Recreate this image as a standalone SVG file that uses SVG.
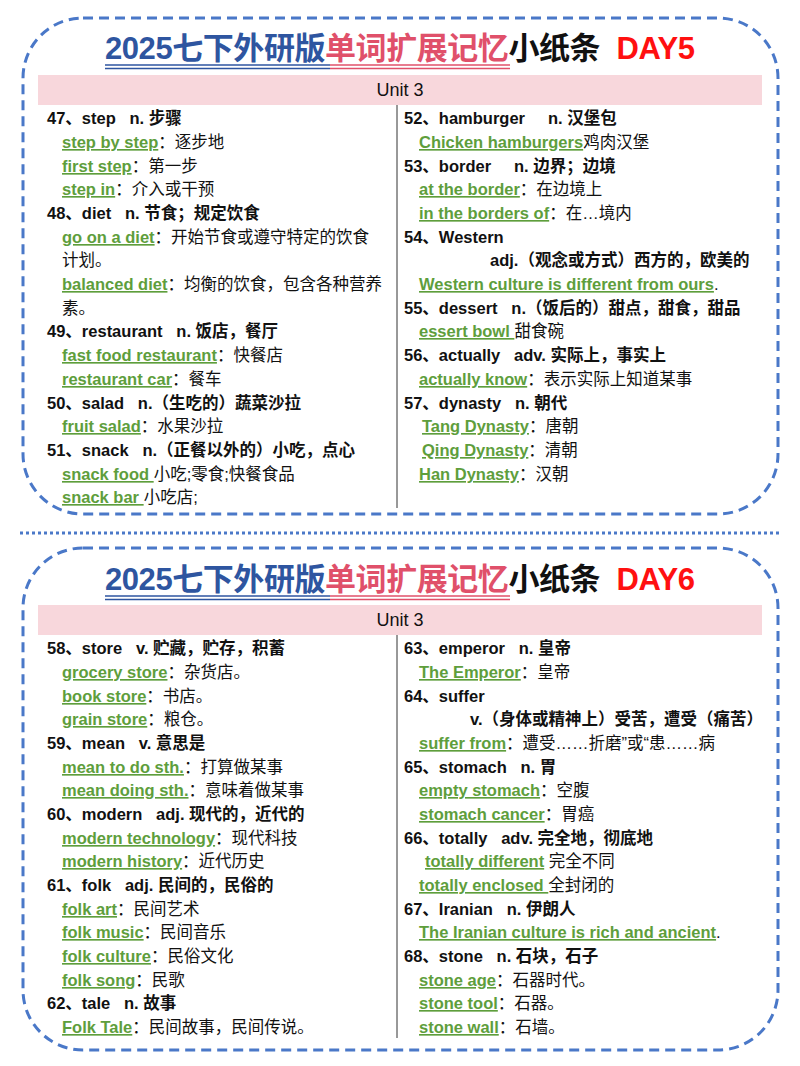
<svg xmlns="http://www.w3.org/2000/svg" width="800" height="1066" viewBox="0 0 800 1066">
<style>
text{font-family:"Liberation Sans","Noto Sans CJK SC",sans-serif;font-size:16.5px;fill:#111;white-space:pre}
.h{font-weight:bold}
.g{fill:#5e9e3c;text-decoration:underline;font-weight:bold}
.t{font-size:31px;font-weight:bold;text-anchor:middle}
.u{font-size:18px;text-anchor:middle}
.box{fill:#fff;stroke:#4a78c8;stroke-width:3;stroke-dasharray:10 6}
.band{fill:#f8d7dc}
.div{stroke:#333;stroke-width:1}
</style>
<rect width="800" height="1066" fill="#fff"/>
<g id="card1">
<rect class="box" x="23" y="18" width="755" height="496" rx="60"/>
<text class="t" x="400" y="59" textLength="590" lengthAdjust="spacing"><tspan fill="#2e55a0">2025七下外研版</tspan><tspan fill="#e0506a">单词扩展记忆</tspan><tspan fill="#111">小纸条  </tspan><tspan fill="#ff1010">DAY5</tspan></text>
<line x1="105" y1="65" x2="330" y2="65" stroke="#2e55a0" stroke-width="1.5"/><line x1="105" y1="68.5" x2="330" y2="68.5" stroke="#2e55a0" stroke-width="1.5"/>
<line x1="330" y1="65" x2="510" y2="65" stroke="#e0506a" stroke-width="1.5"/><line x1="330" y1="68.5" x2="510" y2="68.5" stroke="#e0506a" stroke-width="1.5"/>
<rect class="band" x="38" y="75" width="724" height="30"/>
<text class="u" x="400" y="96">Unit 3</text>
<line class="div" x1="397" y1="105" x2="397" y2="508"/>
<text x="47" y="124" class="h">47、step   n. 步骤</text>
<text x="62" y="148"><tspan class="g">step by step</tspan>：逐步地</text>
<text x="62" y="172"><tspan class="g">first step</tspan>：第一步</text>
<text x="62" y="195"><tspan class="g">step in</tspan>：介入或干预</text>
<text x="47" y="219" class="h">48、diet   n. 节食；规定饮食</text>
<text x="62" y="243"><tspan class="g">go on a diet</tspan>：开始节食或遵守特定的饮食</text>
<text x="62" y="266">计划。</text>
<text x="62" y="290"><tspan class="g">balanced diet</tspan>：均衡的饮食，包含各种营养</text>
<text x="62" y="314">素。</text>
<text x="47" y="337" class="h">49、restaurant   n. 饭店，餐厅</text>
<text x="62" y="361"><tspan class="g">fast food restaurant</tspan>：快餐店</text>
<text x="62" y="385"><tspan class="g">restaurant car</tspan>：餐车</text>
<text x="47" y="409" class="h">50、salad   n.（生吃的）蔬菜沙拉</text>
<text x="62" y="432"><tspan class="g">fruit salad</tspan>：水果沙拉</text>
<text x="47" y="456" class="h">51、snack   n.（正餐以外的）小吃，点心</text>
<text x="62" y="480"><tspan class="g">snack food </tspan>小吃;零食;快餐食品</text>
<text x="62" y="503"><tspan class="g">snack bar </tspan>小吃店;</text>

<text x="404" y="124" class="h">52、hamburger     n. 汉堡包</text>
<text x="419" y="148"><tspan class="g">Chicken hamburgers</tspan>鸡肉汉堡</text>
<text x="404" y="172" class="h">53、border     n. 边界；边境</text>
<text x="419" y="195"><tspan class="g">at the border</tspan>：在边境上</text>
<text x="419" y="219"><tspan class="g">in the borders of</tspan>：在…境内</text>
<text x="404" y="243" class="h">54、Western</text>
<text x="490" y="266" class="h">adj.（观念或方式）西方的，欧美的</text>
<text x="419" y="290"><tspan class="g">Western culture is different from ours</tspan>.</text>
<text x="404" y="314" class="h">55、dessert   n.（饭后的）甜点，甜食，甜品</text>
<text x="419" y="337"><tspan class="g">essert bowl </tspan>甜食碗</text>
<text x="404" y="361" class="h">56、actually   adv. 实际上，事实上</text>
<text x="419" y="385"><tspan class="g">actually know</tspan>：表示实际上知道某事</text>
<text x="404" y="409" class="h">57、dynasty   n. 朝代</text>
<text x="422" y="432"><tspan class="g">Tang Dynasty</tspan>：唐朝</text>
<text x="422" y="456"><tspan class="g">Qing Dynasty</tspan>：清朝</text>
<text x="419" y="480"><tspan class="g">Han Dynasty</tspan>：汉朝</text>
</g>
<g id="separator">
<line x1="20" y1="533" x2="780" y2="533" stroke="#4a78c8" stroke-width="3" stroke-dasharray="3 3"/>
</g>
<g id="card2">
<rect class="box" x="23" y="548" width="755" height="502" rx="60"/>
<text class="t" x="400" y="590" textLength="590" lengthAdjust="spacing"><tspan fill="#2e55a0">2025七下外研版</tspan><tspan fill="#e0506a">单词扩展记忆</tspan><tspan fill="#111">小纸条  </tspan><tspan fill="#ff1010">DAY6</tspan></text>
<line x1="105" y1="596" x2="330" y2="596" stroke="#2e55a0" stroke-width="1.5"/><line x1="105" y1="599.5" x2="330" y2="599.5" stroke="#2e55a0" stroke-width="1.5"/>
<line x1="330" y1="596" x2="510" y2="596" stroke="#e0506a" stroke-width="1.5"/><line x1="330" y1="599.5" x2="510" y2="599.5" stroke="#e0506a" stroke-width="1.5"/>
<rect class="band" x="38" y="605" width="724" height="30"/>
<text class="u" x="400" y="626">Unit 3</text>
<line class="div" x1="397" y1="635" x2="397" y2="1038"/>
<text x="47" y="654" class="h">58、store   v. 贮藏，贮存，积蓄</text>
<text x="62" y="678"><tspan class="g">grocery store</tspan>：杂货店。</text>
<text x="62" y="702"><tspan class="g">book store</tspan>：书店。</text>
<text x="62" y="725"><tspan class="g">grain store</tspan>：粮仓。</text>
<text x="47" y="749" class="h">59、mean   v. 意思是</text>
<text x="62" y="773"><tspan class="g">mean to do sth.</tspan>：打算做某事</text>
<text x="62" y="796"><tspan class="g">mean doing sth.</tspan>：意味着做某事</text>
<text x="47" y="820" class="h">60、modern   adj. 现代的，近代的</text>
<text x="62" y="844"><tspan class="g">modern technology</tspan>：现代科技</text>
<text x="62" y="867"><tspan class="g">modern history</tspan>：近代历史</text>
<text x="47" y="891" class="h">61、folk   adj. 民间的，民俗的</text>
<text x="62" y="915"><tspan class="g">folk art</tspan>：民间艺术</text>
<text x="62" y="938"><tspan class="g">folk music</tspan>：民间音乐</text>
<text x="62" y="962"><tspan class="g">folk culture</tspan>：民俗文化</text>
<text x="62" y="986"><tspan class="g">folk song</tspan>：民歌</text>
<text x="47" y="1009" class="h">62、tale   n. 故事</text>
<text x="62" y="1033"><tspan class="g">Folk Tale</tspan>：民间故事，民间传说。</text>

<text x="404" y="654" class="h">63、emperor   n. 皇帝</text>
<text x="419" y="678"><tspan class="g">The Emperor</tspan>：皇帝</text>
<text x="404" y="702" class="h">64、suffer</text>
<text x="470" y="725" class="h">v.（身体或精神上）受苦，遭受（痛苦）</text>
<text x="419" y="749"><tspan class="g">suffer from</tspan>：遭受……折磨”或“患……病</text>
<text x="404" y="773" class="h">65、stomach   n. 胃</text>
<text x="419" y="796"><tspan class="g">empty stomach</tspan>：空腹</text>
<text x="419" y="820"><tspan class="g">stomach cancer</tspan>：胃癌</text>
<text x="404" y="844" class="h">66、totally   adv. 完全地，彻底地</text>
<text x="425" y="867"><tspan class="g">totally different</tspan> 完全不同</text>
<text x="419" y="891"><tspan class="g">totally enclosed </tspan>全封闭的</text>
<text x="404" y="915" class="h">67、Iranian   n. 伊朗人</text>
<text x="419" y="938"><tspan class="g">The Iranian culture is rich and ancient</tspan>.</text>
<text x="404" y="962" class="h">68、stone   n. 石块，石子</text>
<text x="419" y="986"><tspan class="g">stone age</tspan>：石器时代。</text>
<text x="419" y="1009"><tspan class="g">stone tool</tspan>：石器。</text>
<text x="419" y="1033"><tspan class="g">stone wall</tspan>：石墙。</text>
</g>
</svg>
